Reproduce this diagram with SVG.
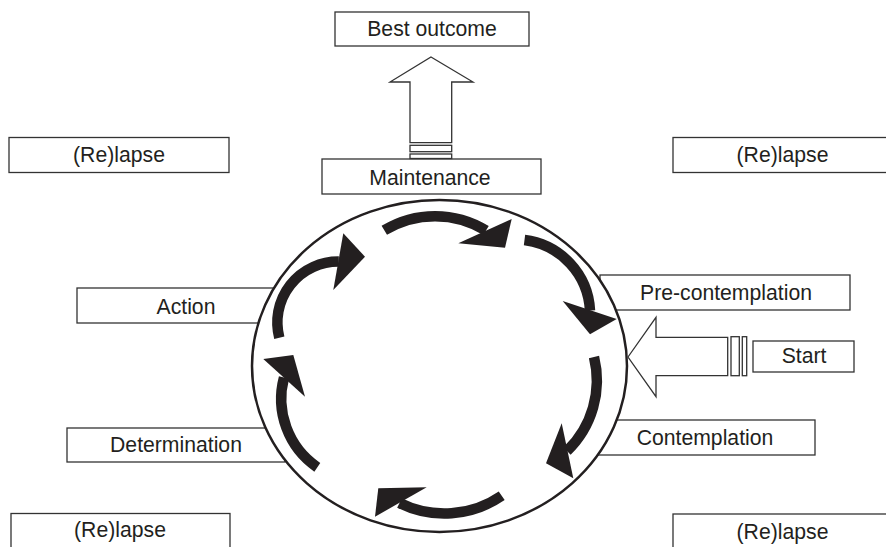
<svg xmlns="http://www.w3.org/2000/svg" width="886" height="547" viewBox="0 0 886 547">
<style>
.box{fill:#fff;stroke:#333;stroke-width:1.3}
.lbl{font-family:"Liberation Sans",Arial,sans-serif;font-size:21.2px;fill:#231f20;text-anchor:middle}
.shaft{fill:none;stroke:#231f20;stroke-width:10.5;stroke-linecap:butt}
.head{fill:#231f20;stroke:none}
.hollow{fill:#fff;stroke:#333;stroke-width:1.3;stroke-linejoin:miter}
</style>
<rect width="886" height="547" fill="#fff"/>
<g id="best-outcome"><rect class="box" x="335" y="12" width="194" height="34"/><text class="lbl" x="432" y="36">Best outcome</text></g>
<g id="maintenance"><rect class="box" x="322" y="159" width="219" height="35"/><text class="lbl" x="430" y="185">Maintenance</text></g>
<g id="relapse-tl"><rect class="box" x="9" y="137.5" width="220" height="35"/><text class="lbl" x="119" y="162">(Re)lapse</text></g>
<g id="relapse-tr"><rect class="box" x="673" y="137.5" width="220" height="35"/><text class="lbl" x="782.5" y="162">(Re)lapse</text></g>
<g id="relapse-bl"><rect class="box" x="11" y="513.5" width="219" height="40"/><text class="lbl" x="120" y="537">(Re)lapse</text></g>
<g id="relapse-br"><rect class="box" x="673" y="514" width="220" height="40"/><text class="lbl" x="782.5" y="538.5">(Re)lapse</text></g>
<g id="action"><rect class="box" x="77" y="288" width="218" height="35"/><text class="lbl" x="186" y="313.5">Action</text></g>
<g id="determination"><rect class="box" x="67" y="428" width="218" height="34"/><text class="lbl" x="176" y="452">Determination</text></g>
<g id="pre-contemplation"><rect class="box" x="600" y="275" width="250" height="35"/><text class="lbl" x="726" y="299.5">Pre-contemplation</text></g>
<g id="contemplation"><rect class="box" x="595" y="420" width="220" height="35"/><text class="lbl" x="705" y="444.5">Contemplation</text></g>
<g id="start"><rect class="box" x="753" y="341" width="101" height="31"/><text class="lbl" x="804" y="363">Start</text></g>
<g id="cycle"><ellipse cx="439.5" cy="366" rx="187.5" ry="166" fill="#fff" stroke="#231f20" stroke-width="2.5"/></g>
<g id="connectors">
<path class="shaft" d="M384.3,230.3 A98,98 0 0 1 486,230.5"/>
<polygon class="head" points="458.3,243.3 511.7,219 505,247.7"/>
<path class="shaft" d="M524.5,240 A75,75 0 0 1 590,310.5"/>
<polygon class="head" points="562.7,301 616.7,319 590,334.3"/>
<path class="shaft" d="M594,357 A98,98 0 0 1 567,451"/>
<polygon class="head" points="561.7,423.3 546,463.3 573.3,478.3"/>
<path class="shaft" d="M501.7,495.7 A101,101 0 0 1 399.5,503"/>
<polygon class="head" points="426.7,487.3 378.3,488.3 375,516.7"/>
<path class="shaft" d="M317.3,467.3 A83,83 0 0 1 284,377.5"/>
<polygon class="head" points="263.3,359 293.3,355 305,396.7"/>
<path class="shaft" d="M279.3,337.7 A61,61 0 0 1 338.8,261.5"/>
<polygon class="head" points="343.3,233.3 365,256.7 333.3,290"/>
<polygon class="hollow" points="628,357 656,317.3 656,337.3 727.7,337.3 727.7,375.7 656,375.7 656,396.7"/>
<rect class="hollow" x="731" y="336.7" width="8.3" height="39"/>
<rect class="hollow" x="742.3" y="336.7" width="4.4" height="39"/>
<polygon class="hollow" points="431,57 473,82 451.7,82 451.7,142.7 410,142.7 410,82 390,82"/>
<rect class="hollow" x="410" y="145.3" width="41.7" height="6.4"/>
<rect class="hollow" x="410" y="154" width="41.7" height="4.5"/>
</g>
</svg>
